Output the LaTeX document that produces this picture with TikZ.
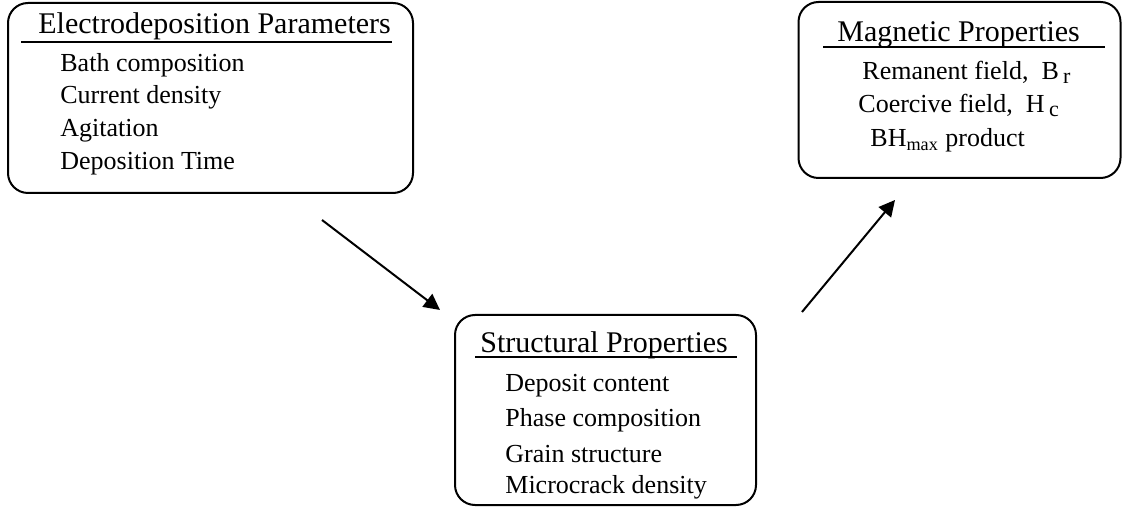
\documentclass[tikz,border=0pt]{standalone}
\usepackage{fontspec}
\setmainfont{Liberation Serif}
\usetikzlibrary{arrows.meta}

\tikzset{
  panel/.style={draw, line width=1pt, rounded corners=10pt},
  heading/.style={anchor=base west, inner sep=0pt, font=\fontsize{15}{17}\selectfont},
  entry/.style={anchor=base west, inner sep=0pt},
  flow/.style={line width=1pt, -{Triangle[length=8pt,width=8pt]}}
}
\newcommand{\lowsub}[1]{\,{\fontsize{11}{13}\selectfont\raisebox{-2pt}{#1}}}

\begin{document}
\begin{tikzpicture}[x=0.5pt, y=-0.5pt, font=\fontsize{13}{15}\selectfont]
    \useasboundingbox (0,0) rectangle (1124,507);

    % electrodeposition box
    \node[panel, minimum width=202.5pt, minimum height=95pt] (elec) at (210.5,98) {};
    \node[heading] (elecT) at (38,34) {Electrodeposition Parameters};
    \draw[line width=0.8pt] (21,42) -- (392,42);
    \node[entry] (bath) at (60,72) {Bath composition};
    \node[entry] (curr) at (60,104) {Current density};
    \node[entry] (agit) at (60,137) {Agitation};
    \node[entry] (dtim) at (60,170) {Deposition Time};

    % magnetic box
    \node[panel, minimum width=161pt, minimum height=88pt] (magn) at (959.5,90) {};
    \node[heading] (magnT) at (837,42) {Magnetic Properties};
    \draw[line width=0.8pt] (823,47) -- (1105,47);
    \node[entry] (rema) at (862,80) {Remanent field,\ \ B\lowsub{r}};
    \node[entry] (coer) at (858,113) {Coercive field,\ \ H\lowsub{c}};
    \node[entry] (bhmx) at (870,147) {BH\textsubscript{max} product};

    % structural box
    \node[panel, minimum width=150.5pt, minimum height=95pt] (strc) at (605.5,410) {};
    \node[heading] (strcT) at (480,353) {Structural Properties};
    \draw[line width=0.8pt] (475,357) -- (737,357);
    \node[entry] (depo) at (505,392) {Deposit content};
    \node[entry] (phas) at (505,427) {Phase composition};
    \node[entry] (grai) at (505,462) {Grain structure};
    \node[entry] (micr) at (505,494) {Microcrack density};

    % arrows
    \coordinate (a1s) at (322,220);
    \coordinate (a1e) at (440,310);
    \coordinate (a2s) at (802,312);
    \coordinate (a2e) at (895,200);
    \draw[flow] (a1s) -- (a1e);
    \draw[flow] (a2s) -- (a2e);
\end{tikzpicture}
\end{document}
